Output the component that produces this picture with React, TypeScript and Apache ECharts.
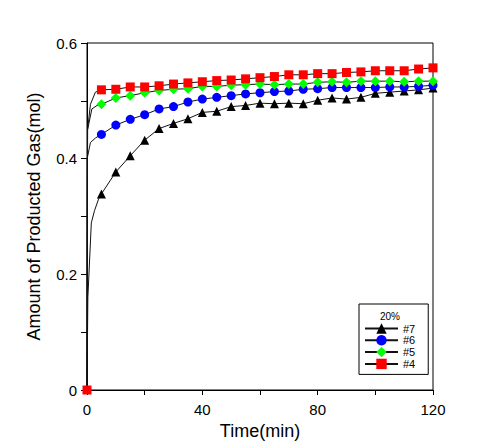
import React, { useEffect, useRef } from "react";
import * as echarts from "echarts";

// Marker times (min)
const MARK_TIMES = [5, 10, 15, 20, 25, 30, 35, 40, 45, 50, 55, 60, 65, 70, 75, 80, 85, 90, 95, 100, 105, 110, 115, 120];

// Values at marker times
const S7_VALUES = [0.339, 0.377, 0.405, 0.432, 0.452, 0.461, 0.469, 0.48, 0.482, 0.49, 0.492, 0.496, 0.495, 0.496, 0.495, 0.501, 0.505, 0.503, 0.506, 0.513, 0.515, 0.517, 0.519, 0.522];
const S6_VALUES = [0.442, 0.458, 0.468, 0.476, 0.486, 0.49, 0.498, 0.503, 0.506, 0.509, 0.512, 0.514, 0.516, 0.517, 0.52, 0.521, 0.523, 0.523, 0.523, 0.523, 0.524, 0.524, 0.525, 0.527];
const S5_VALUES = [0.494, 0.505, 0.509, 0.514, 0.518, 0.52, 0.521, 0.525, 0.525, 0.527, 0.528, 0.529, 0.528, 0.529, 0.529, 0.532, 0.533, 0.532, 0.534, 0.534, 0.534, 0.533, 0.534, 0.534];
const S4_VALUES = [0.519, 0.52, 0.524, 0.524, 0.526, 0.529, 0.531, 0.533, 0.535, 0.536, 0.538, 0.54, 0.542, 0.545, 0.545, 0.547, 0.547, 0.549, 0.55, 0.552, 0.552, 0.552, 0.555, 0.557];

// Early (un-marked) part of each curve
const S7_EARLY_T = [0, 0.3, 1.5, 2.6, 4];
const S7_EARLY_V = [0, 0.16, 0.289, 0.31, 0.33];
const S6_EARLY_T = [0, 0.05, 1.2, 3];
const S6_EARLY_V = [0, 0.4, 0.428, 0.436];
const S5_EARLY_T = [0, 0.2, 1.7, 3.5];
const S5_EARLY_V = [0, 0.45, 0.486, 0.492];
const S4_EARLY_T = [0, 0.2, 1.2, 2.9];
const S4_EARLY_V = [0, 0.45, 0.494, 0.515];

const SERIES_NAMES = ["#7", "#6", "#5", "#4"];
const LEGEND_TITLE = "20%";
const X_TICKS = [0, 40, 80, 120];
const Y_TICKS = ["0", "0.2", "0.4", "0.6"];

const FONT = "'Liberation Sans', Arial, sans-serif";

function buildData(et: number[], ev: number[], vals: number[], markOrigin: boolean) {
  const d: any[] = [];
  et.forEach((t, i) => {
    if (t === 0 && markOrigin) d.push({ value: [t, ev[i]] });
    else d.push({ value: [t, ev[i]], symbol: "none" });
  });
  MARK_TIMES.forEach((t, i) => d.push({ value: [t, vals[i]] }));
  return d;
}

export default function App() {
  const ref = useRef<HTMLDivElement>(null);
  useEffect(() => {
    if (!ref.current) return;
    const chart = echarts.init(ref.current, undefined, { renderer: "svg" });
    const lineStyle = { color: "#111", width: 1 };
    const mk = (name: string, symbol: string, size: number, color: string, data: any[]) => ({
      name,
      type: "line",
      symbol,
      symbolSize: size,
      showAllSymbol: true,
      itemStyle: { color },
      lineStyle,
      data,
    });
    chart.setOption({
      animation: false,
      backgroundColor: "#fff",
      grid: {
        left: 87,
        top: 43,
        right: 55,
        bottom: 58,
        show: true,
        borderColor: "#000",
        borderWidth: 1,
        backgroundColor: "transparent",
      },
      xAxis: {
        type: "value",
        min: 0,
        max: 120,
        interval: 20,
        name: "Time(min)",
        nameLocation: "middle",
        nameGap: 31,
        nameTextStyle: { fontSize: 18, fontFamily: FONT, color: "#000" },
        axisLine: { show: true, lineStyle: { color: "#000", width: 1 } },
        axisTick: { show: true, inside: false, length: 5, lineStyle: { color: "#000" } },
        axisLabel: {
          fontSize: 15,
          fontFamily: FONT,
          color: "#000",
          margin: 12,
          formatter: (v: number) => (X_TICKS.includes(Math.round(v)) ? String(Math.round(v)) : ""),
        },
        splitLine: { show: false },
      },
      yAxis: {
        type: "value",
        min: 0,
        max: 0.6,
        interval: 0.1,
        name: "Amount of Producted Gas(mol)",
        nameLocation: "middle",
        nameGap: 44,
        nameTextStyle: { fontSize: 18, fontFamily: FONT, color: "#000" },
        axisLine: { show: true, lineStyle: { color: "#000", width: 1 } },
        axisTick: { show: true, inside: false, length: 6, lineStyle: { color: "#000" } },
        axisLabel: {
          fontSize: 15,
          fontFamily: FONT,
          color: "#000",
          margin: 10,
          formatter: (v: number) => {
            const k = Math.round(v * 10);
            return k % 2 === 0 ? Y_TICKS[k / 2] : "";
          },
        },
        splitLine: { show: false },
      },
      legend: {
        data: SERIES_NAMES,
        orient: "vertical",
        left: 359,
        top: 304,
        padding: [19, 13, 5, 5],
        itemWidth: 33,
        itemHeight: 13,
        itemGap: 0.8,
        borderColor: "#000",
        borderWidth: 1,
        borderRadius: 0,
        backgroundColor: "#fff",
        textStyle: { fontSize: 11, fontFamily: FONT, color: "#000" },
      },
      graphic: [
        {
          type: "text",
          left: 380,
          top: 311,
          z: 100,
          style: { text: LEGEND_TITLE, fontSize: 10, fontFamily: FONT, fill: "#000" },
        },
      ],
      series: [
        mk(SERIES_NAMES[0], "triangle", 9, "#000", buildData(S7_EARLY_T, S7_EARLY_V, S7_VALUES, false)),
        mk(SERIES_NAMES[1], "circle", 9, "#0000ff", buildData(S6_EARLY_T, S6_EARLY_V, S6_VALUES, false)),
        mk(SERIES_NAMES[2], "diamond", 10, "#00ff00", buildData(S5_EARLY_T, S5_EARLY_V, S5_VALUES, false)),
        mk(SERIES_NAMES[3], "rect", 9, "#ff0000", buildData(S4_EARLY_T, S4_EARLY_V, S4_VALUES, true)),
      ],
    });
    return () => chart.dispose();
  }, []);
  return <div ref={ref} style={{ position: "absolute", left: 0, top: 0, width: 488, height: 448 }} />;
}
